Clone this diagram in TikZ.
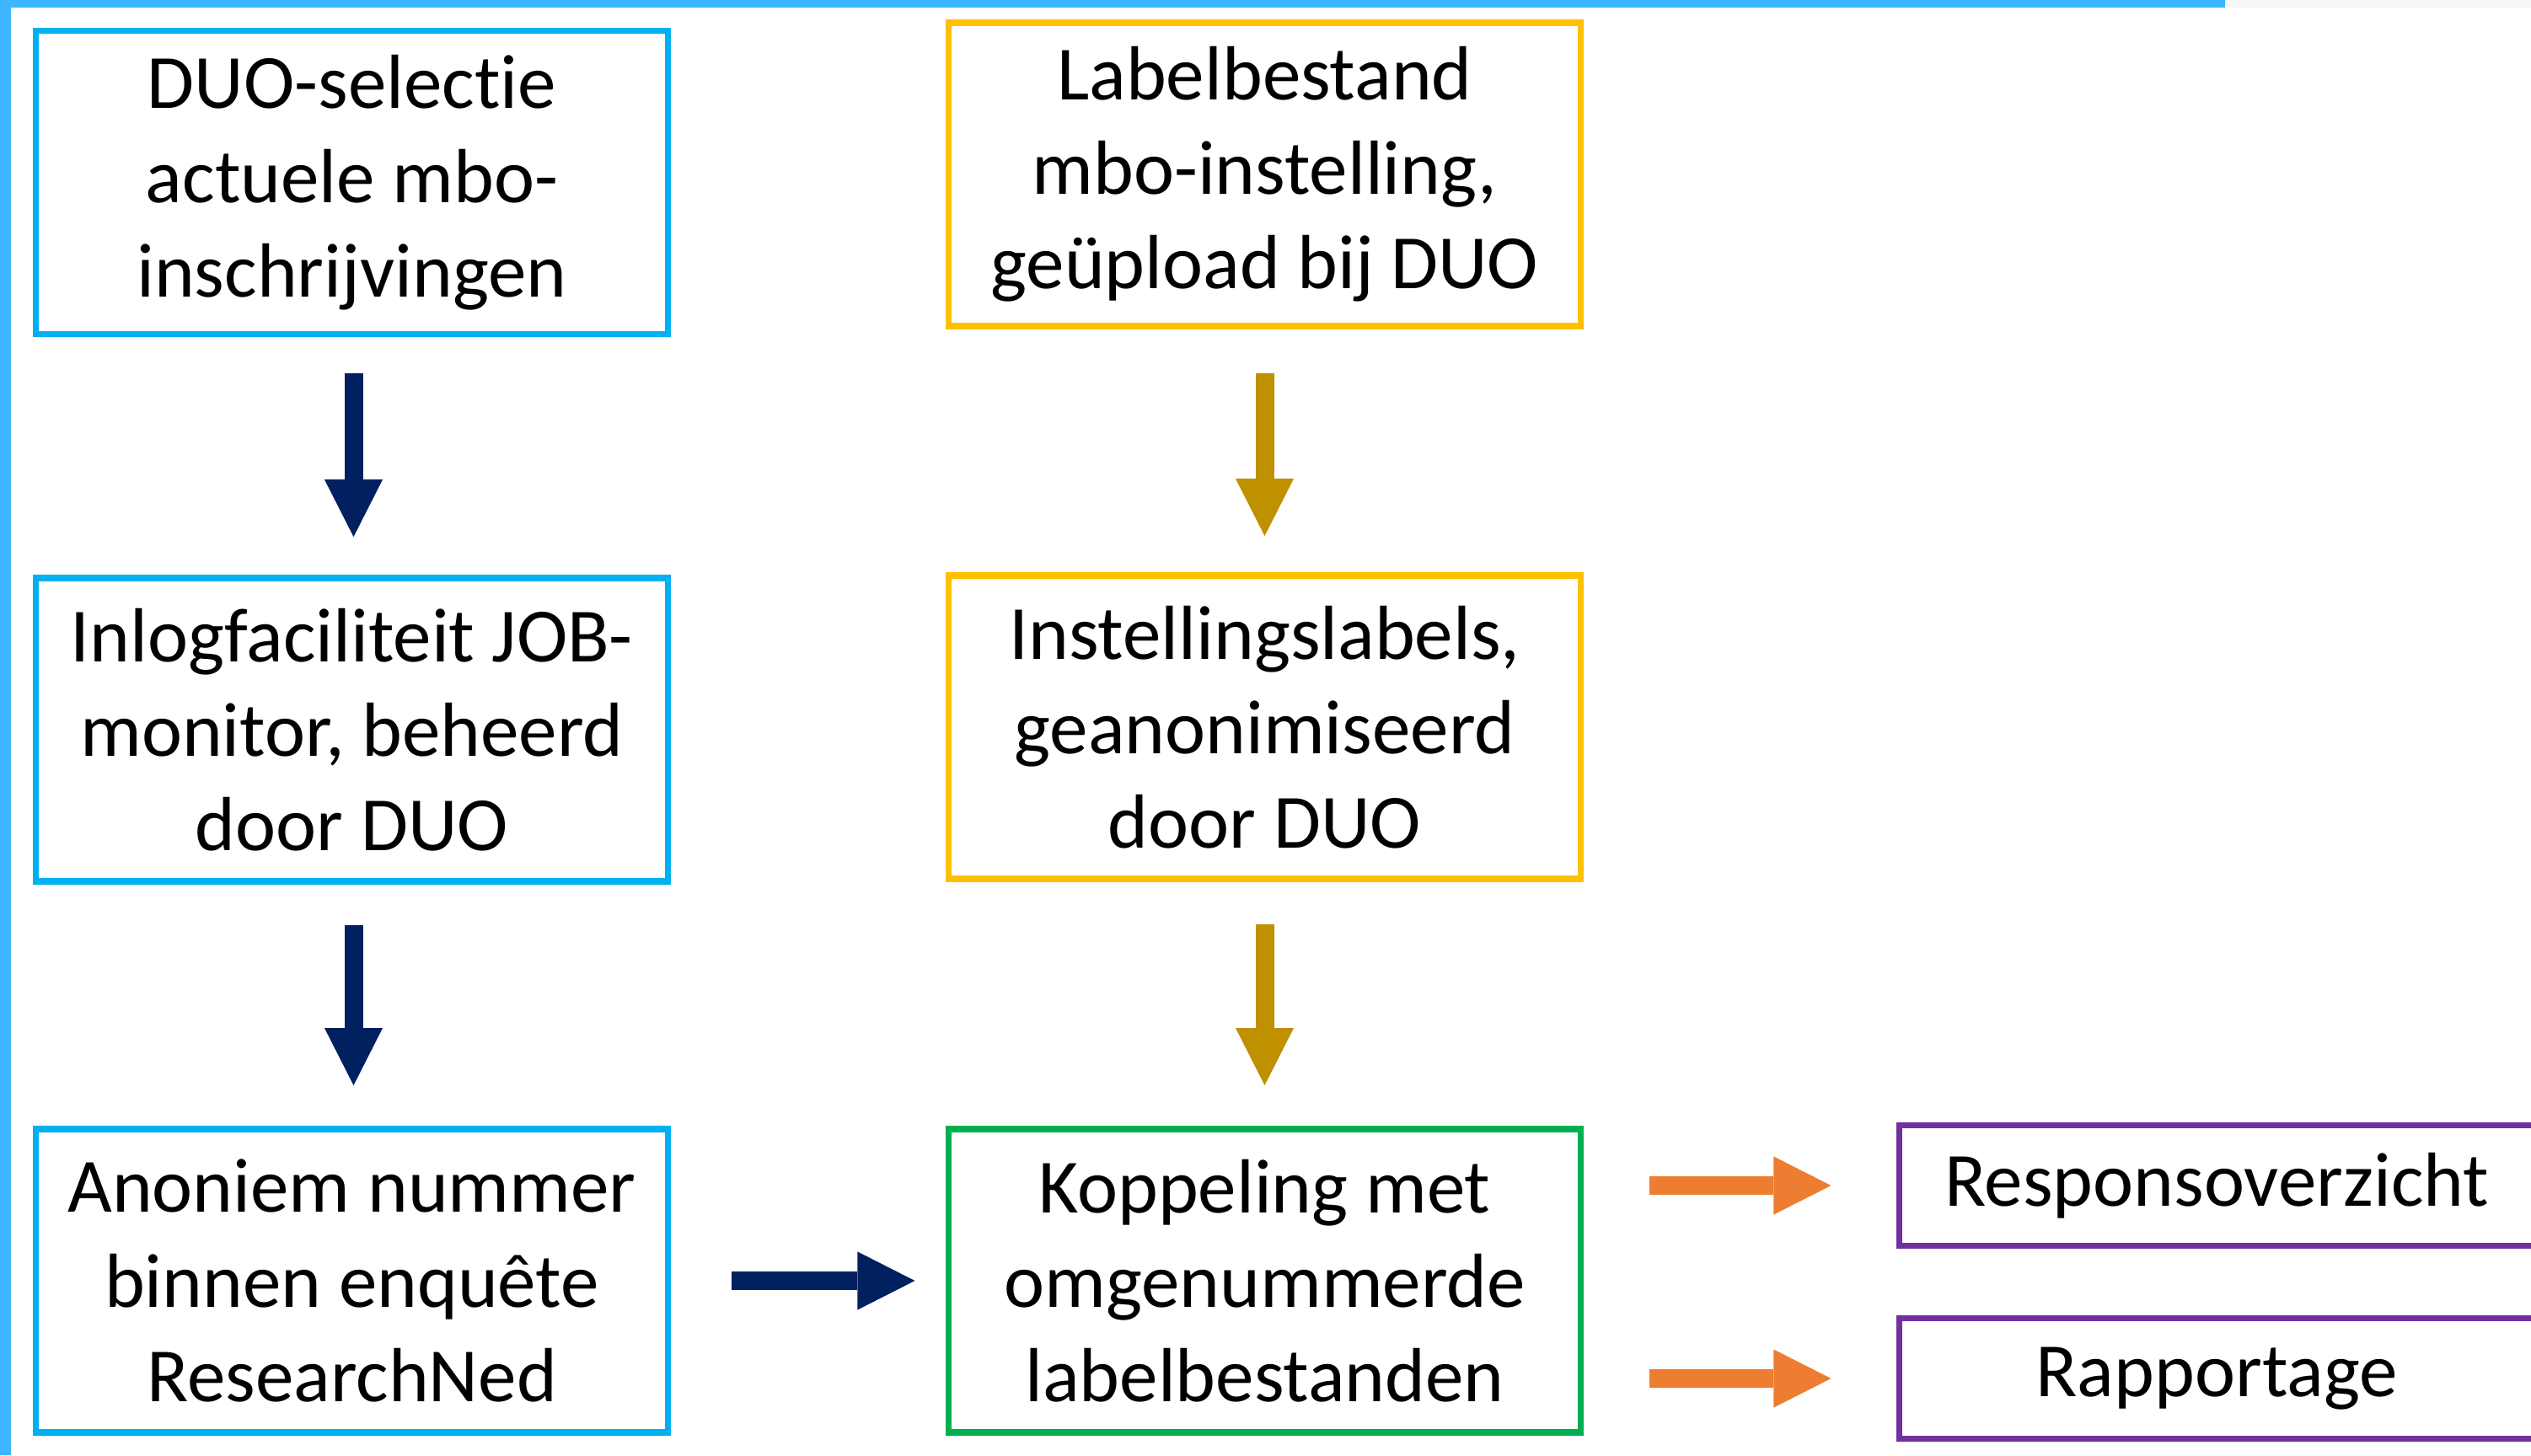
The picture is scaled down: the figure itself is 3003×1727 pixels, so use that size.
\documentclass[tikz,border=0pt]{standalone}
\usepackage{fontspec}
\setmainfont{Carlito}[Ligatures=NoCommon]
\usetikzlibrary{arrows.meta}
\definecolor{boxblue}{HTML}{00B0F0}
\definecolor{boxyellow}{HTML}{FFC000}
\definecolor{boxgreen}{HTML}{00B050}
\definecolor{boxpurple}{HTML}{7030A0}
\definecolor{arrnavy}{HTML}{002060}
\definecolor{arrgold}{HTML}{BF9000}
\definecolor{arrorange}{HTML}{ED7D31}
\definecolor{framebl}{HTML}{3DB5FF}
\begin{document}
\begin{tikzpicture}[x=0.01cm,y=-0.01cm,
  box/.style={draw, line width=0.075cm, rectangle, inner sep=0pt,
    minimum width=7.5cm, minimum height=3.6cm, align=center,
    font=\fontsize{25.9}{31.9}\selectfont, text=black},
  outbox/.style={box, draw=boxpurple, minimum width=7.53cm, minimum height=1.43cm},
  flow/.style={line width=0.22cm, -{Triangle[width=0.69cm,length=0.68cm,line width=0pt]}}
]
\useasboundingbox (0,0) rectangle (3003,1727);
\fill[white] (0,0) rectangle (3003,1727);
% frame bars
\fill[framebl] (0,0) rectangle (13,1727);
\fill[framebl] (0,0) rectangle (2640,9);
\fill[black!3] (2640,0) rectangle (3003,9);

% boxes
\node[box, draw=boxblue] (a1) at (417.5,216.5) {DUO-selectie\\actuele mbo-\\inschrijvingen};
\node[box, draw=boxyellow] (b1) at (1500.5,207) {Labelbestand\\mbo-instelling,\\geüpload bij DUO};
\node[box, draw=boxblue] (a2) at (417.5,866) {Inlogfaciliteit JOB-\\monitor, beheerd\\door DUO};
\node[box, draw=boxyellow] (b2) at (1500.5,863) {Instellingslabels,\\geanonimiseerd\\door DUO};
\node[box, draw=boxblue] (a3) at (417.5,1520) {Anoniem nummer\\binnen enquête\\ResearchNed};
\node[box, draw=boxgreen] (c) at (1500.5,1520) {Koppeling met\\omgenummerde\\labelbestanden};
\node[outbox] (r1) at (2630,1407) {Responsoverzicht};
\node[outbox] (r2) at (2630,1636) {Rapportage};

% arrows
\draw[flow, arrnavy, shorten <=0.43cm, shorten >=0.45cm] ([xshift=0.02cm]a1.south) -- ([xshift=0.02cm]a2.north);
\draw[flow, arrnavy, shorten <=0.48cm, shorten >=0.48cm] ([xshift=0.02cm]a2.south) -- ([xshift=0.02cm]a3.north);
\draw[flow, arrgold, shorten <=0.52cm, shorten >=0.43cm] (b1.south) -- (b2.north);
\draw[flow, arrgold, shorten <=0.50cm, shorten >=0.48cm] (b2.south) -- (c.north);
\draw[flow, arrnavy, shorten <=0.71cm, shorten >=0.36cm] (a3.east) -- (c.west);
\draw[flow, arrorange, shorten <=0.77cm, shorten >=0.77cm] (c.east |- r1.west) -- (r1.west);
\draw[flow, arrorange, shorten <=0.77cm, shorten >=0.77cm] (c.east |- r2.west) -- (r2.west);
\end{tikzpicture}
\end{document}
